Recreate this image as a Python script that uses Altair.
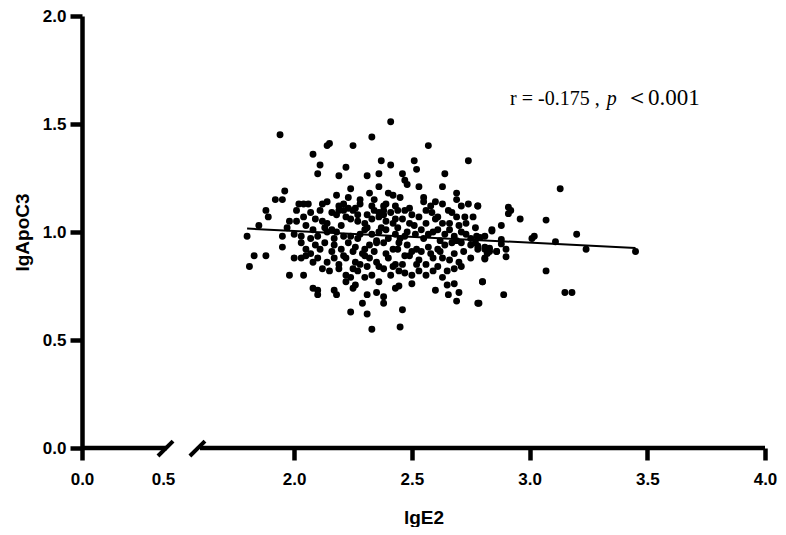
import altair as alt
import pandas as pd

# lgE2 values (x) and lgApoC3 values (y)
lgE2 = [
    2.41, 1.94, 2.33, 2.15, 2.14, 2.25, 2.57, 2.08, 2.37, 2.51, 2.74, 2.11, 2.22, 2.41, 2.52,
    2.10, 2.19, 2.31, 2.36, 2.46, 2.64, 2.47, 2.48, 2.36, 2.53, 2.63, 2.24, 1.96, 2.32, 2.40,
    2.42, 2.69, 1.92, 1.95, 2.23, 2.34, 2.55, 2.55, 2.69,
    2.02, 2.04, 2.06, 2.14, 2.12, 2.21, 2.19, 2.28, 2.39, 2.38, 2.63, 2.655, 2.71, 2.74, 2.78,
    1.88, 1.89, 2.01, 2.07, 2.11, 2.19, 2.18, 2.21, 2.25, 2.26, 2.34, 2.31, 2.36, 2.38, 2.41,
    2.44, 2.47, 2.50, 2.56, 2.585, 2.61, 2.67, 2.69, 2.725, 2.76,
    2.04, 2.01, 2.09, 2.12, 2.14, 2.22, 2.24, 2.27, 2.30, 2.33, 2.36, 2.39, 2.43, 2.46, 2.49,
    2.56, 2.60, 2.63, 2.66, 2.70, 2.73, 2.77, 1.85, 1.98,
    1.80, 1.95, 2.03, 2.07, 2.10, 2.14, 2.16, 2.18, 2.21, 2.24, 2.28, 2.30, 2.33, 2.36, 2.39,
    2.43, 2.45, 2.47, 2.515, 2.54, 2.57, 2.61, 2.64, 2.68, 2.71, 2.75, 2.775, 2.81, 2.84, 2.86,
    1.95, 2.03, 2.05, 2.09, 2.13, 2.17, 2.20, 2.23, 2.26, 2.30, 2.32, 2.35, 2.38, 2.42, 2.445,
    2.48, 2.50, 2.54, 2.57, 2.61, 2.64, 2.67, 2.71, 2.75, 2.78, 2.81, 2.83,
    1.83, 1.88, 1.81,
    2.00, 2.03, 2.05, 2.10, 2.14, 2.17, 2.19, 2.22, 2.26, 2.28, 2.30, 2.32, 2.35, 2.40, 2.43,
    2.46, 2.49, 2.53, 2.56, 2.59, 2.63, 2.66, 2.70, 2.75, 2.81,
    1.98, 2.04, 2.15, 2.19, 2.22, 2.24, 2.27, 2.30, 2.33, 2.38, 2.42, 2.445, 2.47, 2.50, 2.53,
    2.56, 2.59, 2.63, 2.65, 2.68, 2.71, 2.80, 2.68,
    2.08, 2.10, 2.10, 2.17, 2.18, 2.26, 2.25, 2.31, 2.35, 2.38, 2.43, 2.445, 2.60, 2.65, 2.655,
    2.69, 2.70, 2.78, 2.29, 2.38,
    2.24, 2.31, 2.46, 2.33, 2.45,
    3.13, 2.78, 2.91, 2.92, 2.91, 2.96, 3.07, 2.84, 2.88, 3.20, 2.79, 2.88, 2.88, 3.01, 3.02,
    3.11, 2.78, 2.81, 2.83, 2.82, 2.86, 2.90, 2.81, 2.90, 3.24, 3.45, 3.07, 2.80, 2.89, 3.15,
    3.18, 2.785,
    # dense core
    2.37, 2.40, 2.42, 2.35, 2.31, 2.27, 2.20, 2.17, 2.13, 2.08, 2.05, 2.00, 1.97, 2.44, 2.48,
    2.51, 2.55, 2.59, 2.62, 2.66, 2.69, 2.73, 2.77, 2.34, 2.29, 2.25, 2.21, 2.16, 2.11, 2.07,
    2.39, 2.44, 2.47, 2.52, 2.58, 2.62, 2.68, 2.72, 2.38, 2.33, 2.27, 2.23, 2.16, 2.43, 2.49,
    2.53, 2.58, 2.36, 2.31, 2.25, 2.41, 2.52, 2.61, 2.12, 2.08, 2.28, 2.45, 2.60, 2.18, 2.50,
    2.36, 2.22,
]
lgApoC3 = [
    1.51, 1.45, 1.44, 1.41, 1.40, 1.40, 1.40, 1.36, 1.33, 1.33, 1.33, 1.31, 1.30, 1.31, 1.29,
    1.27, 1.26, 1.26, 1.27, 1.27, 1.27, 1.24, 1.22, 1.21, 1.21, 1.21, 1.20, 1.19, 1.18, 1.18,
    1.17, 1.18, 1.15, 1.15, 1.16, 1.15, 1.16, 1.14, 1.15,
    1.13, 1.13, 1.13, 1.14, 1.13, 1.13, 1.12, 1.13, 1.13, 1.12, 1.13, 1.10, 1.12, 1.13, 1.12,
    1.10, 1.07, 1.10, 1.09, 1.10, 1.10, 1.08, 1.10, 1.10, 1.11, 1.10, 1.08, 1.09, 1.10, 1.09,
    1.10, 1.10, 1.08, 1.10, 1.09, 1.07, 1.09, 1.07, 1.07, 1.07,
    1.07, 1.05, 1.06, 1.05, 1.04, 1.07, 1.06, 1.05, 1.04, 1.06, 1.07, 1.05, 1.06, 1.06, 1.04,
    1.04, 1.06, 1.04, 1.04, 1.03, 1.04, 1.02, 1.03, 1.05,
    0.98, 0.98, 0.98, 0.97, 0.98, 1.00, 1.01, 1.00, 0.98, 0.98, 0.99, 1.01, 0.99, 1.00, 1.01,
    0.99, 0.97, 0.98, 0.99, 1.01, 0.99, 1.01, 0.99, 0.98, 1.00, 0.97, 0.98, 0.98, 1.01, 0.91,
    0.93, 0.95, 0.92, 0.94, 0.95, 0.94, 0.92, 0.95, 0.93, 0.92, 0.94, 0.95, 0.95, 0.92, 0.95,
    0.94, 0.91, 0.91, 0.93, 0.92, 0.94, 0.95, 0.95, 0.94, 0.92, 0.93, 0.91,
    0.89, 0.89, 0.84,
    0.88, 0.88, 0.89, 0.88, 0.86, 0.88, 0.85, 0.88, 0.86, 0.85, 0.89, 0.88, 0.86, 0.88, 0.85,
    0.85, 0.89, 0.87, 0.85, 0.88, 0.88, 0.87, 0.86, 0.88, 0.88,
    0.80, 0.80, 0.82, 0.83, 0.80, 0.79, 0.82, 0.79, 0.80, 0.83, 0.84, 0.82, 0.81, 0.80, 0.82,
    0.80, 0.82, 0.79, 0.82, 0.83, 0.84, 0.77, 0.76,
    0.74, 0.73, 0.71, 0.73, 0.71, 0.755, 0.74, 0.71, 0.72, 0.70, 0.74, 0.75, 0.73, 0.755, 0.71,
    0.68, 0.72, 0.67, 0.67, 0.67,
    0.63, 0.62, 0.64, 0.55, 0.56,
    1.20, 1.12, 1.115, 1.10, 1.085, 1.06, 1.055, 1.005, 1.03, 0.99, 0.975, 0.965, 0.945, 0.97, 0.98,
    0.955, 0.935, 0.92, 0.925, 0.90, 0.91, 0.92, 0.875, 0.885, 0.92, 0.91, 0.82, 0.77, 0.71, 0.72,
    0.72, 0.67,
    # dense core
    1.02, 0.97, 1.04, 0.96, 1.02, 0.97, 1.03, 0.97, 1.02, 1.01, 1.03, 0.99, 1.02, 1.02, 1.00,
    1.03, 0.97, 1.00, 0.96, 1.01, 0.96, 0.99, 0.95, 0.91, 0.90, 0.91, 0.89, 0.91, 0.92, 0.90,
    0.90, 0.92, 0.89, 0.92, 0.90, 0.91, 0.90, 0.91, 1.08, 1.12, 1.08, 1.11, 1.09, 1.12, 1.11,
    1.07, 1.12, 0.84, 0.84, 0.83, 0.80, 0.85, 0.84, 0.83, 0.86, 1.15, 1.16, 1.14, 1.17, 0.76,
    0.77, 0.77,
]

# fitted regression line end points
fit_x = [1.80, 3.45]
fit_y = [1.016, 0.926]

# axis labels
x_ticks = [0.0, 0.5, 2.0, 2.5, 3.0, 3.5, 4.0]
y_ticks = [0.0, 0.5, 1.0, 1.5, 2.0]

# broken x axis: segments and break marks (data units)
seg_start = [0.0, 1.60]
seg_end = [0.619, 4.0]
brk_x1 = [0.469, 1.30]
brk_x2 = [0.798, 1.621]
brk_y1 = [-0.037, -0.037]
brk_y2 = [0.032, 0.032]

# annotation pieces
ann_x = [2.917, 3.328, 3.405, 3.503]
ann_y = 1.588
ann_text = ["r = -0.175 ,", "p", "\uff1c", "0.001"]
ann_size = [20, 20, 24, 23]

W, H = 683, 432
LEFT, TOP = 74, 8

pts = pd.DataFrame({"x": lgE2, "y": lgApoC3})
fit = pd.DataFrame({"x": fit_x, "y": fit_y})
segs = pd.DataFrame({"x": seg_start, "x2": seg_end, "y": [0, 0]})
brks = pd.DataFrame({"x": brk_x1, "x2": brk_x2, "y": brk_y1, "y2": brk_y2})

LABEL_FONT = "Liberation Sans"

xscale = alt.Scale(domain=[0, 0.5, 1.6, 4.0], range=[0, 81, 118, W])
yscale = alt.Scale(domain=[0, 2])

xaxis = alt.Axis(
    values=x_ticks, format=".1f", domain=False, grid=False,
    tickColor="black", tickWidth=4.5, tickSize=12,
    tickOpacity={"condition": {"test": "datum.value === 0.5", "value": 0}, "value": 1},
    labelFont=LABEL_FONT, labelFontSize=17, labelFontWeight="bold", labelColor="black",
    labelPadding=11, labelFlush=False, labelOverlap=False,
    title="lgE2", titleFont=LABEL_FONT, titleFontSize=19, titleFontWeight="bold",
    titleColor="black", titlePadding=21,
)
yaxis = alt.Axis(
    values=y_ticks, format=".1f", domain=True, domainColor="black", domainWidth=4.5,
    grid=False, tickColor="black", tickWidth=4.5, tickSize=12,
    labelFont=LABEL_FONT, labelFontSize=17, labelFontWeight="bold", labelColor="black",
    labelPadding=4, labelFlush=False, labelOverlap=False,
    title="lgApoC3", titleFont=LABEL_FONT, titleFontSize=19, titleFontWeight="bold",
    titleColor="black", titlePadding=10,
)

points = alt.Chart(pts).mark_circle(size=48, color="black", opacity=1).encode(
    x=alt.X("x:Q", scale=xscale, axis=xaxis),
    y=alt.Y("y:Q", scale=yscale, axis=yaxis),
)
line = alt.Chart(fit).mark_line(color="black", strokeWidth=2).encode(
    x=alt.X("x:Q", scale=xscale), y=alt.Y("y:Q", scale=yscale)
)
axis_line = alt.Chart(segs).mark_rule(color="black", strokeWidth=4.5).encode(
    x=alt.X("x:Q", scale=xscale), x2="x2:Q", y=alt.Y("y:Q", scale=yscale)
)
breaks = alt.Chart(brks).mark_rule(color="black", strokeWidth=4).encode(
    x=alt.X("x:Q", scale=xscale), x2="x2:Q", y=alt.Y("y:Q", scale=yscale), y2="y2:Q"
)

texts = []
for tx, tt, ts in zip(ann_x, ann_text, ann_size):
    df = pd.DataFrame({"x": [tx], "y": [ann_y], "t": [tt]})
    texts.append(
        alt.Chart(df).mark_text(
            align="left", baseline="alphabetic", font="Liberation Serif", fontSize=ts,
            color="black", fontStyle="italic" if tt == "p" else "normal",
        ).encode(x=alt.X("x:Q", scale=xscale), y=alt.Y("y:Q", scale=yscale), text="t:N")
    )

chart = alt.layer(points, line, axis_line, breaks, *texts).properties(
    width=W, height=H,
    autosize=alt.AutoSizeParams(type="none"),
    padding={"left": LEFT, "top": TOP, "right": 13, "bottom": 79},
).configure_view(stroke=None)

chart.save("out.html", embed_options={"renderer": "svg", "actions": False})
